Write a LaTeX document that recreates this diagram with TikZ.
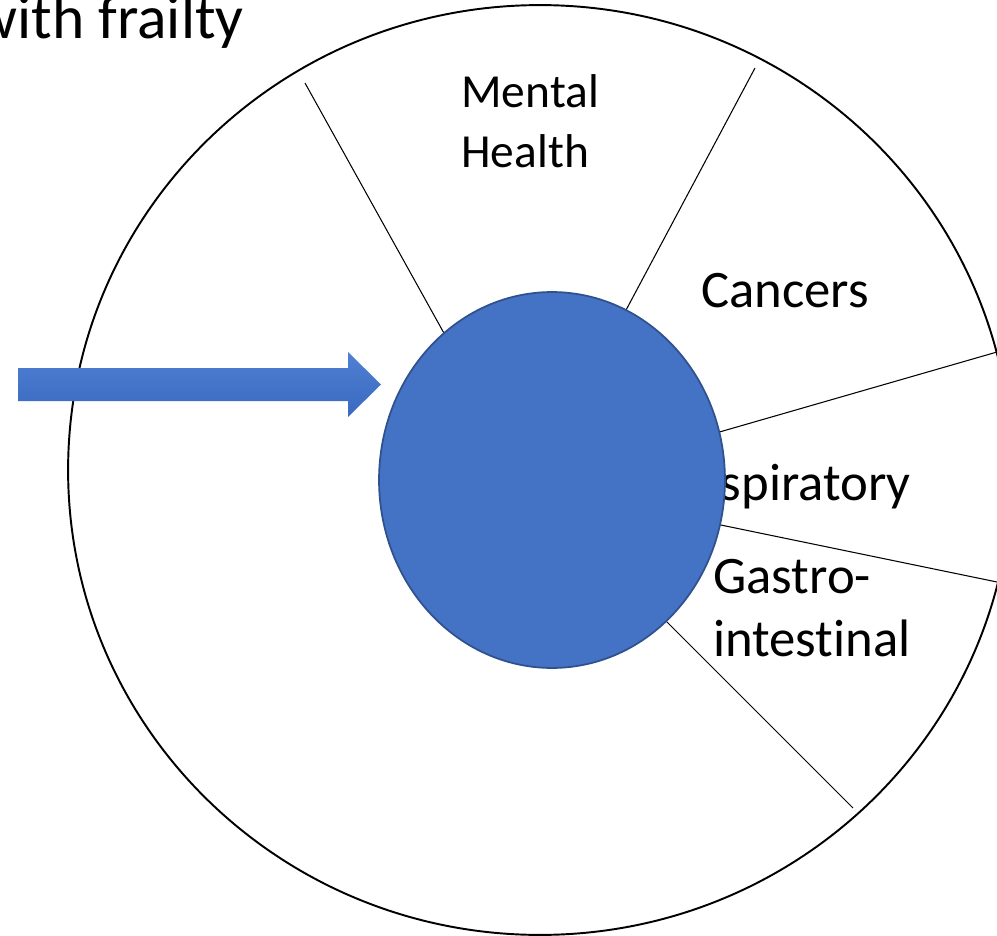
\documentclass[tikz,border=0pt]{standalone}
\usepackage{fontspec}
\setmainfont{Carlito}[Ligatures=NoCommon]
\definecolor{FrailBlue}{HTML}{4472C4}
\definecolor{FrailEdge}{HTML}{2F528F}
\definecolor{FrailLight}{HTML}{4F80D2}
\definecolor{FrailDark}{HTML}{3A69C0}
\usetikzlibrary{shapes.geometric, positioning}
\tikzset{
    ring/.style={
        ellipse,
        draw=black,
        line width=1.1pt,
        inner sep=0pt,
        minimum width=18.88cm,
        minimum height=18.6cm
    },
    blob/.style={
        ellipse,
        draw=FrailEdge,
        fill=FrailBlue,
        line width=1pt,
        inner sep=0pt,
        minimum width=6.92cm,
        minimum height=7.52cm
    },
    spoke/.style={
        draw=black,
        line width=0.6pt
    },
    seglabel/.style={
        font=\fontsize{30}{34}\selectfont,
        text=black,
        align=left,
        inner sep=0pt
    },
    headline/.style={
        font=\fontsize{35}{40}\selectfont,
        text=black,
        inner sep=0pt
    },
    bigarrow/.style={
        top color=FrailLight,
        bottom color=FrailDark
    }
}

\begin{document}
\begin{tikzpicture}[x=0.02cm, y=-0.02cm]
    \useasboundingbox (0,0) rectangle (997,936);

    % Heading, cut by the page edge
    \node[headline, anchor=base east] (frailty) at (244,39) {with frailty};

    % Outer ring
    \node[ring] (ring) at (540,470) {};

    % Segment borders
    \coordinate (o1) at (305,83);
    \coordinate (o2) at (755,68);
    \coordinate (o3) at (997,352);
    \coordinate (o4) at (997,582);
    \coordinate (o5) at (853,808);
    \coordinate (i1) at (445,335);
    \coordinate (i2) at (625,312);
    \coordinate (i3) at (716,433);
    \coordinate (i4) at (716,524);
    \coordinate (i5) at (664,619);
    \foreach \k in {1,...,5}
        \draw[spoke] (o\k) -- (i\k);

    % Segment labels
    \node[seglabel, font=\fontsize{27}{31}\selectfont, anchor=north west] (ment) at (461,74) {Mental\\[3pt]Health};
    \node[seglabel, anchor=base west] (canc) at (701,307) {Cancers};
    \node[seglabel, anchor=base east] (resp) at (911,500) {Respiratory};
    \node[seglabel, anchor=north west] (gast) at (713,559) {Gastro-\\[2pt]intestinal};

    % Centre
    \node[blob] (core) at (552,480) {};

    % Arrow into the centre
    \shade[bigarrow] (18,368) -- (348,368) -- (348,352) -- (381,384.5)
        -- (348,417) -- (348,401) -- (18,401) -- cycle;
\end{tikzpicture}
\end{document}
